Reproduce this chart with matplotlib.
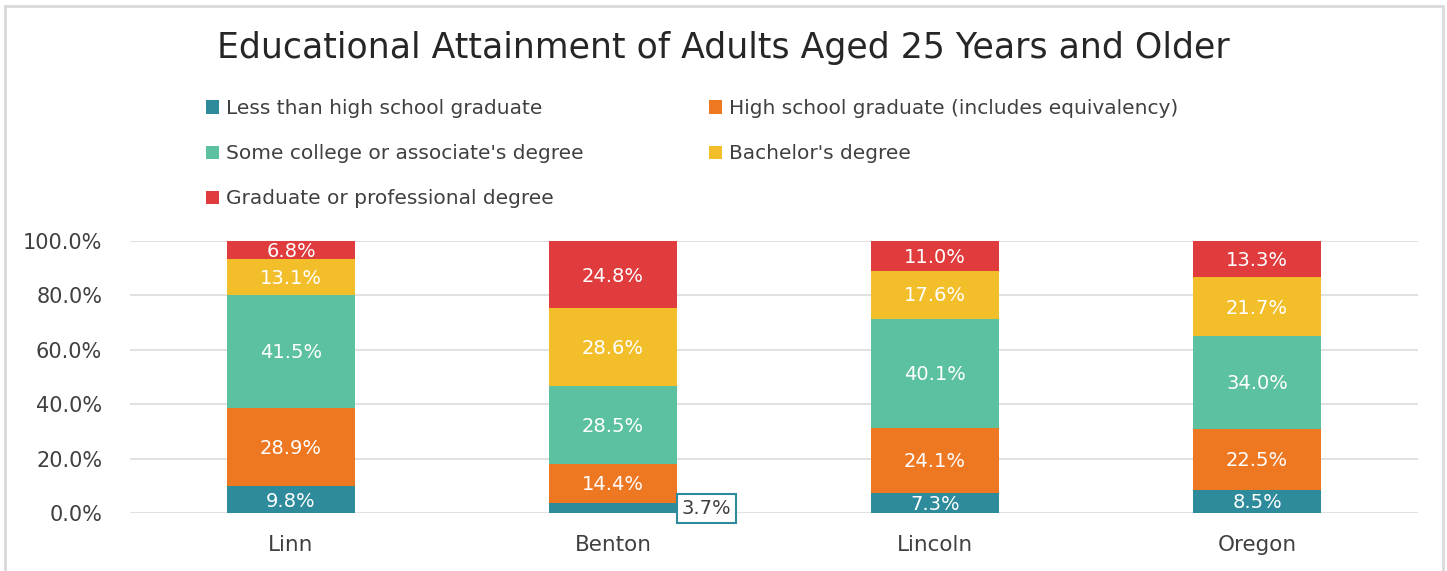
import matplotlib
matplotlib.use('Agg')
import matplotlib.pyplot as plt
from matplotlib.patches import Rectangle
import numpy as np

plt.rcParams['font.family'] = ['DejaVu Sans']

regions = ['Linn', 'Benton', 'Lincoln', 'Oregon']
series = ['Less than high school graduate',
          'High school graduate (includes equivalency)',
          "Some college or associate's degree",
          "Bachelor's degree",
          'Graduate or professional degree']
less_hs = [9.8, 3.7, 7.3, 8.5]
hs_grad = [28.9, 14.4, 24.1, 22.5]
some_college = [41.5, 28.5, 40.1, 34.0]
bachelor = [13.1, 28.6, 17.6, 21.7]
graduate = [6.8, 24.8, 11.0, 13.3]
colors = ['#2E8B9B', '#EE7722', '#5CC1A0', '#F2BE2A', '#E03B3D']

values = [less_hs, hs_grad, some_college, bachelor, graduate]

fig = plt.figure(figsize=(14.47, 5.71), dpi=100)
ax = fig.add_axes([130 / 1447, 1 - 513 / 571, (1418 - 130) / 1447, (513 - 241) / 571])

x = np.arange(len(regions))
bottom = np.zeros(len(regions))
handles = []
for vals, name, c in zip(values, series, colors):
    vals = np.array(vals)
    b = ax.bar(x, vals, 0.4, bottom=bottom, color=c, label=name, zorder=2)
    handles.append(b)
    for i, v in enumerate(vals):
        if name == series[0] and regions[i] == 'Benton':
            ax.text(i + 0.29, bottom[i] + v / 2 - 0.3, '%.1f%%' % v, ha='center', va='center',
                    fontsize=14, color='#404040', zorder=4,
                    bbox=dict(boxstyle='square,pad=0.25', fc='white', ec='#2E8B9B', lw=1.5))
        else:
            ax.text(i, bottom[i] + v / 2 - 0.5, '%.1f%%' % v, ha='center', va='center',
                    fontsize=14, color='white', zorder=3)
    bottom += vals

ax.set_xlim(-0.5, 3.5)
ax.set_ylim(0, 100)
ax.set_yticks(np.arange(0, 101, 20))
ax.set_yticklabels(['%.1f%%' % t for t in np.arange(0, 101, 20)], fontsize=15, color='#404040')
ax.set_xticks(x)
ax.set_xticklabels(regions, fontsize=15.5, color='#404040')
ax.tick_params(length=0, pad=20)
ax.tick_params(axis='x', pad=16)
ax.grid(axis='y', color='#DEDEDE', lw=1.3, zorder=0)
for s in ax.spines.values():
    s.set_visible(False)

fig.text(0.5, 1 - 48 / 571, 'Educational Attainment of Adults Aged 25 Years and Older',
         ha='center', va='center', fontsize=25, color='#262626')

# row-major order like the original legend
order = [0, 2, 4, 1, 3]
fig.legend(handles=[handles[i] for i in order], labels=[series[i] for i in order], ncol=2,
           loc='upper left', bbox_to_anchor=(188 / 1447, 1 - 81 / 571), frameon=False,
           fontsize=14.5, handlelength=0.65, handleheight=0.65, handletextpad=0.35,
           columnspacing=6.2, labelspacing=1.3, labelcolor='#404040')

fig.patches.append(Rectangle((5 / 1447, -0.05), (1443 - 5) / 1447, 1.05 - 6 / 571, transform=fig.transFigure,
                             fill=False, ec='#D9D9D9', lw=2))

fig.savefig('out.png', dpi=100)
